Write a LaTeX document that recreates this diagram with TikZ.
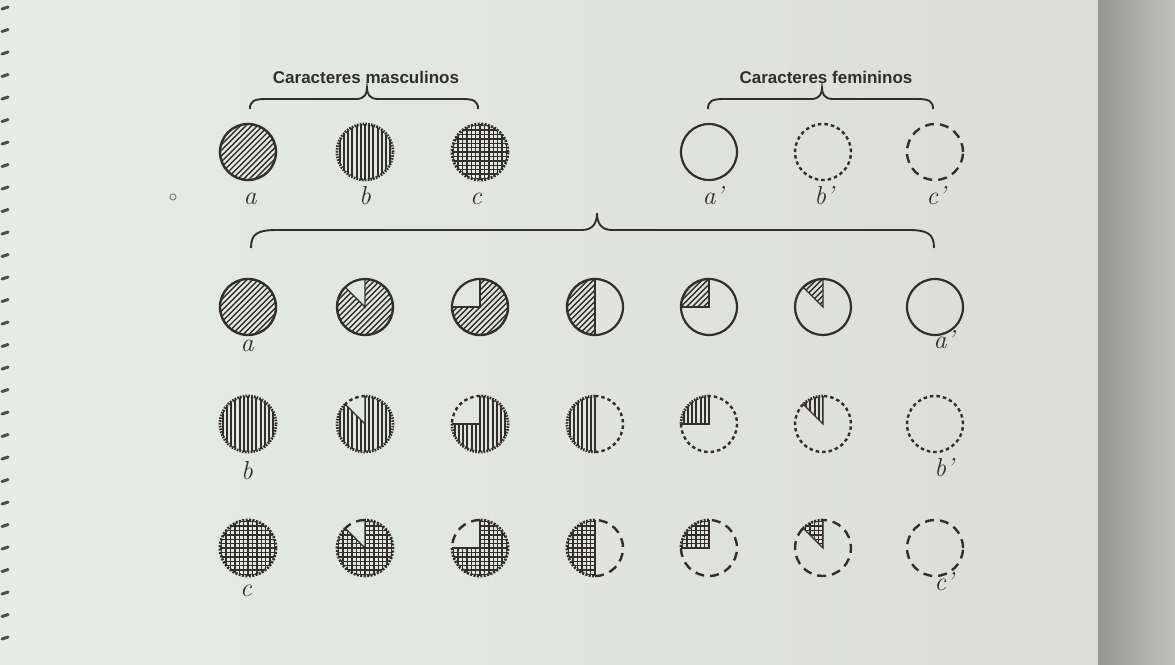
\documentclass[tikz,border=0pt]{standalone}
\usepackage{fontspec}
\newfontfamily\headfont{Liberation Sans}
\usetikzlibrary{calc}
\definecolor{ink}{RGB}{50,46,46}
\definecolor{bgL}{RGB}{230,236,229}
\definecolor{bgM}{RGB}{248,240,242}
\definecolor{bgR}{RGB}{220,220,218}
\definecolor{bandL}{RGB}{150,150,148}
\definecolor{bandR}{RGB}{192,192,190}
\newcommand\myR{28}
\tikzset{
 hlineA/.style={draw=ink,line width=1.4pt},
 hlineB/.style={draw=ink,line width=1.9pt},
 hlineC/.style={draw=ink,line width=1.4pt},
 edgeA/.style={draw=ink,line width=2.4pt},
 edgeB/.style={draw=ink,line width=2.8pt,dash pattern=on 1.6pt off 1.2pt},
 edgeC/.style={draw=ink,line width=2.8pt,dash pattern=on 2pt off 1.4pt},
 openA/.style={draw=ink,line width=2.2pt},
 openB/.style={draw=ink,line width=2.4pt,dash pattern=on 3.5pt off 3pt},
 openC/.style={draw=ink,line width=2.4pt,dash pattern=on 9pt off 6pt},
 radline/.style={draw=ink,line width=1.3pt},
 bracestyle/.style={draw=ink,line width=1.9pt},
 lbl/.style={text=ink,font=\fontsize{26}{26}\selectfont\itshape,inner sep=0pt,anchor=base},
 head/.style={text=ink,font=\headfont\bfseries\fontsize{17}{17}\selectfont,inner sep=0pt,anchor=base},
}
% hatch line sets around a centre (to be clipped)
\newcommand\hatchA[1]{\begin{scope}[shift={(#1)},rotate=-45]
 \foreach \d in {-32,-28,...,32} \draw[hlineA] (\d,-34) -- (\d,34);\end{scope}}
\newcommand\hatchB[1]{\begin{scope}[shift={(#1)}]
 \foreach \d in {-29.4,-25.2,...,30} \draw[hlineB] (\d,-34) -- (\d,34);\end{scope}}
\newcommand\hatchC[1]{\begin{scope}[shift={(#1)}]
 \foreach \d in {-30.8,-26.4,...,31} {\draw[hlineC] (\d,-34) -- (\d,34); \draw[hlineC] (-34,\d) -- (34,\d);}\end{scope}}
% hatched sector from #5 to #6 (ccw), white part from #6 to #5+360
\newcommand\pieceX[6]{%
 \begin{scope}
  \clip (#1) -- ++(#5:\myR) arc[start angle=#5,end angle=#6,radius=\myR] -- cycle;
  #2{#1}
 \end{scope}
 \draw[#4] ($(#1)+(#6:\myR)$) arc[start angle=#6,end angle={#5+360},radius=\myR];
 \draw[#3] ($(#1)+(#5:\myR)$) arc[start angle=#5,end angle=#6,radius=\myR];
 \draw[radline] ($(#1)+(#5:\myR)$) -- (#1) -- ($(#1)+(#6:\myR)$);
}
\newcommand\fullX[3]{%
 \begin{scope}\clip (#1) circle[radius=\myR]; #2{#1}\end{scope}
 \draw[#3] (#1) circle[radius=\myR];
}
\newcommand\pierow[5]{%
 \foreach \cx [count=\k] in {248,365,480,595,709,823,935} {\coordinate (#5\k) at (\cx,#1);}
 \fullX{#51}{#2}{#3}
 \pieceX{#52}{#2}{#3}{#4}{135}{450}
 \pieceX{#53}{#2}{#3}{#4}{180}{450}
 \pieceX{#54}{#2}{#3}{#4}{90}{270}
 \pieceX{#55}{#2}{#3}{#4}{90}{180}
 \pieceX{#56}{#2}{#3}{#4}{90}{135}
 \draw[#4] (#57) circle[radius=\myR];
}
% brace: xL xR xM yEnd yH yTip endSweep tipSweep
\newcommand\bracedraw[8]{%
 \draw[bracestyle] (#1,#4) .. controls (#1,{#5+0.2*(#4-#5)}) and ({#1+0.25*#7},#5) .. ({#1+#7},#5)
  -- ({#3-#8},#5) .. controls ({#3-0.2*#8},#5) and (#3,{#5+0.5*(#6-#5)}) .. (#3,#6)
  .. controls (#3,{#5+0.5*(#6-#5)}) and ({#3+0.2*#8},#5) .. ({#3+#8},#5)
  -- ({#2-#7},#5) .. controls ({#2-0.25*#7},#5) and (#2,{#5+0.2*(#4-#5)}) .. (#2,#4);
}
\begin{document}
\begin{tikzpicture}[x=1pt,y=1pt]
\useasboundingbox (0,0) rectangle (1175,-664);
% page background
\shade[left color=bgL, middle color=bgM, right color=bgR] (0,0) rectangle (1098,-664);
\shade[left color=bandL, right color=bandR] (1098,0) rectangle (1175,-664);
\foreach \i in {0,...,28} \draw[line width=3pt,draw=ink!85,line cap=round] (2,{-9-22.5*\i}) -- (8,{-7-22.5*\i});
\draw[ink!60,line width=1pt] (173,-197) circle[radius=3];

% headings and braces
\node[head] (hm) at (366,-83) {Caracteres masculinos};
\node[head] (hf) at (826,-83) {Caracteres femininos};
\bracedraw{250}{478}{367}{-109}{-99}{-88}{16}{11}
\bracedraw{708}{933}{822}{-109}{-99}{-88}{16}{11}
\bracedraw{251}{934}{597}{-248}{-230}{-213}{26}{15}

% top row
\coordinate (ta) at (248,-152);
\coordinate (tb) at (365,-152);
\coordinate (tc) at (480,-152);
\coordinate (ta2) at (709,-152);
\coordinate (tb2) at (823,-152);
\coordinate (tc2) at (935,-152);
\fullX{ta}{\hatchA}{edgeA}
\fullX{tb}{\hatchB}{edgeB}
\fullX{tc}{\hatchC}{edgeC}
\draw[openA] (ta2) circle[radius=\myR];
\draw[openB] (tb2) circle[radius=\myR];
\draw[openC] (tc2) circle[radius=\myR];
\node[lbl] (la) at (250,-204) {a};
\node[lbl] (lb) at (365,-204) {b};
\node[lbl] (lc) at (476,-204) {c};
\node[lbl] (la2) at (713,-204) {a’};
\node[lbl] (lb2) at (824,-204) {b’};
\node[lbl] (lc2) at (936,-204) {c’};

% rows of intermediates
\pierow{-307}{\hatchA}{edgeA}{openA}{p}
\pierow{-424}{\hatchB}{edgeB}{openB}{q}
\pierow{-548}{\hatchC}{edgeC}{openC}{s}

\node[lbl] (ra) at (247,-351) {a};
\node[lbl] (ra2) at (944,-348) {a’};
\node[lbl] (rb) at (247,-479) {b};
\node[lbl] (rb2) at (944,-476) {b’};
\node[lbl] (rc) at (246,-596) {c};
\node[lbl] (rc2) at (944,-590) {c’};
\end{tikzpicture}
\end{document}
